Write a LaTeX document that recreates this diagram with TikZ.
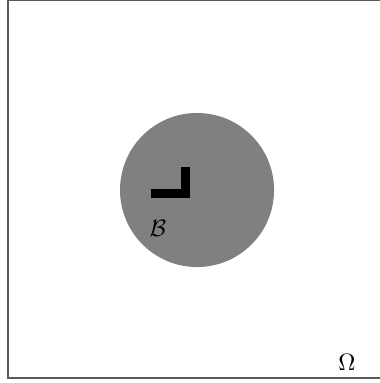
\documentclass[tikz,border=0pt]{standalone}
\usepackage{amsmath}
\usepackage{amssymb}
\usepackage{tikz}
\usepackage{xcolor}
\definecolor{framegray}{RGB}{90, 90, 90}
\definecolor{bodygray}{RGB}{128, 128, 128}

\begin{document}
\begin{tikzpicture}[
      frame/.style={draw=framegray, line width=0.45pt},
      body/.style={fill=bodygray},
      corner/.style={line width=0.133cm, line join=miter, line cap=butt, black},
      lbl/.style={font=\normalsize, inner sep=0pt}
    ]
    \useasboundingbox (0,0) rectangle (5.609,5.668);

    % domain
    \draw[frame] (0.118,0.074) rectangle (5.70,5.655);
    \node[lbl] (omega) at (5.136,0.31) {$\Omega$};

    % body with its corner mark
    \fill[body] (2.916,2.856) circle (1.14);
    \draw[corner] (2.235,2.805) -- (2.745,2.805) -- (2.745,3.197);
    \node[lbl] (bodylabel) at (2.338,2.294) {$\mathcal{B}$};
  \end{tikzpicture}
\end{document}
